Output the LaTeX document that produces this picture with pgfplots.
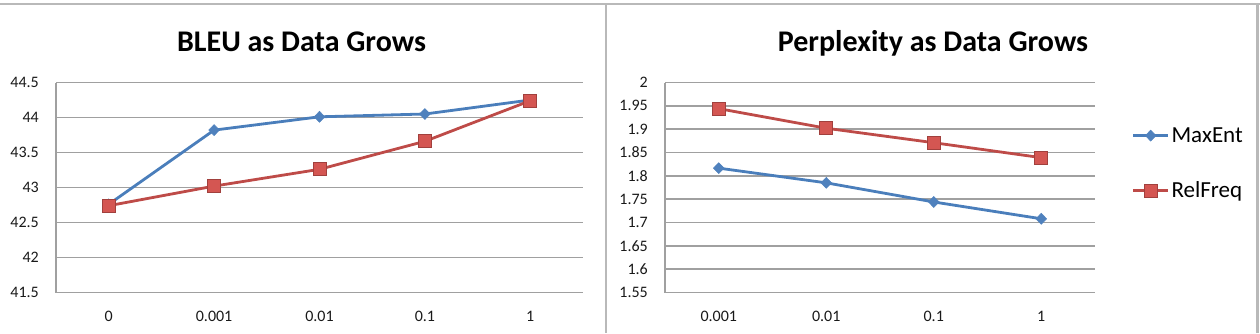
\documentclass[border=0pt]{standalone}
\usepackage{fontspec}
\setmainfont{Carlito}
\usepackage{pgfplots}
\pgfplotsset{compat=1.18}
\definecolor{meblue}{RGB}{74,126,187}
\definecolor{mebluefill}{RGB}{79,129,189}
\definecolor{rfred}{RGB}{190,75,72}
\definecolor{rfredfill}{RGB}{212,86,82}
\definecolor{gridgray}{RGB}{160,160,160}
\definecolor{framegray}{RGB}{185,185,185}
\pgfplotsset{
  excel/.style={
    scale only axis,
    axis x line*=bottom, axis y line*=left,
    axis line style={gridgray, line width=1.6pt, -},
    ymajorgrids, grid style={gridgray, line width=1.6pt},
    major tick length=0pt,
    tick style={draw=none},
    xmin=-0.5,
    height=210pt,
    /pgf/number format/assume math mode=true,
    ticklabel style={font=\fontsize{16}{16}\selectfont, text=black!90},
    yticklabel style={anchor=east, inner sep=0pt, xshift=-17pt},
    xticklabel style={anchor=north, inner sep=0pt, yshift=-18.5pt},
    clip=false,
  },
  maxent/.style={meblue, line width=2.8pt, mark=diamond*, mark size=5.5pt,
    mark options={fill=mebluefill, draw=mebluefill, line width=0.5pt, xscale=1.3}},
  relfreq/.style={rfred, line width=2.8pt, mark=square*, mark size=6.5pt,
    mark options={fill=rfredfill, draw=rfred!85!black, line width=0.8pt}},
}
\begin{document}
\begin{tikzpicture}
\useasboundingbox (0,0) rectangle (1260pt,-333pt);
% left chart
\begin{axis}[excel, at={(56pt,-292.5pt)}, anchor=south west, width=527pt,
  xmax=4.5, ymin=41.5, ymax=44.5,
  ytick={41.5,42,42.5,43,43.5,44,44.5},
  xtick={0,1,2,3,4}, xticklabels={0,0.001,0.01,0.1,1}]
\addplot[maxent] coordinates {(0,42.76) (1,43.82) (2,44.01) (3,44.05) (4,44.25)};
\addplot[relfreq] coordinates {(0,42.74) (1,43.02) (2,43.26) (3,43.66) (4,44.24)};
\end{axis}
% right chart
\begin{axis}[excel, at={(665pt,-292.5pt)}, anchor=south west, width=430pt,
  xmax=3.5, ymin=1.55, ymax=2,
  ytick={1.55,1.6,1.65,1.7,1.75,1.8,1.85,1.9,1.95,2},
  xtick={0,1,2,3}, xticklabels={0.001,0.01,0.1,1},
  legend style={draw=none, fill=none, inner sep=0pt, row sep=34pt,
    font=\fontsize{23}{23}\selectfont,
    at={(axis description cs:1.085,0.615)}, anchor=west},
  legend cell align=left,
  legend image code/.code={\draw[mark repeat=2,mark phase=2] plot coordinates {(0pt,0pt) (17.5pt,0pt) (35pt,0pt)};}]
\addplot[maxent] coordinates {(0,1.8165) (1,1.785) (2,1.744) (3,1.708)};
\addlegendentry{MaxEnt}
\addplot[relfreq] coordinates {(0,1.944) (1,1.902) (2,1.871) (3,1.839)};
\addlegendentry{RelFreq}
\end{axis}
\node[anchor=base, font=\bfseries\fontsize{30}{30}\selectfont] at (301.5pt,-51pt) {BLEU as Data Grows};
\node[anchor=base, font=\bfseries\fontsize{30}{30}\selectfont] at (933pt,-51pt) {Perplexity as Data Grows};
\draw[framegray, line width=2pt] (0,-4pt) -- (1260pt,-4pt);
\draw[framegray, line width=2.5pt] (606pt,-4pt) -- (606pt,-333pt);
\draw[framegray, line width=2.5pt] (1257.5pt,-4pt) -- (1257.5pt,-333pt);
\end{tikzpicture}
\end{document}
